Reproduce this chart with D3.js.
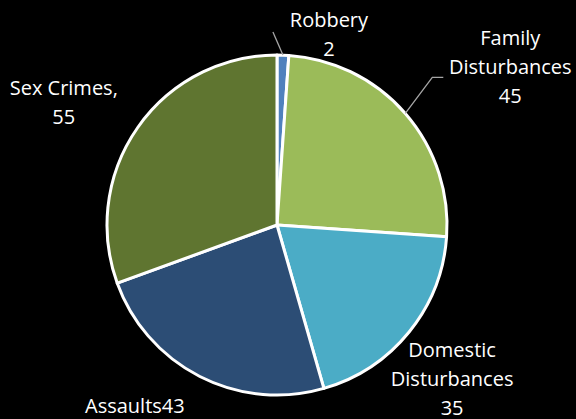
<!DOCTYPE html>
<html>
<head>
<meta charset="utf-8">
<script src="https://cdn.jsdelivr.net/npm/d3@7"></script>
<style>
  html, body { margin: 0; padding: 0; background: #000; }
  svg { display: block; }
  text { font-family: "Open Sans", sans-serif; font-size: 20px; fill: #fff; }
</style>
</head>
<body>
<div id="chart"></div>
<script>
// crime categories and counts
const categories = ["Robbery", "Family Disturbances", "Domestic Disturbances", "Assaults", "Sex Crimes"];
const counts = [2, 45, 35, 43, 55];
// label lines as shown on the chart
const labelLines = [
    ["Robbery", "2"],
    ["Family", "Disturbances", "45"],
    ["Domestic", "Disturbances", "35"],
    ["Assaults43"],
    ["Sex Crimes,", "55"]
];
const colors = ["#4f81bd", "#9bbb59", "#4bacc6", "#2c4d75", "#5f7530"];

const width = 576, height = 419;
const cx = 277, cy = 225, radius = 170;
const lineHeight = 29;

// label offset from the slice's outer edge point (dx to text center, dy to first baseline)
const labelOffset = [[46, -28], [105, -68], [43, 25], [-65, 37], [-74, -33]];
// leader line points relative to the outer edge point (null = no leader)
const leaderPts = [[[-10, -23]], [[27, -36], [38, -36]], null, null, null];

const svg = d3.select("#chart").append("svg")
    .attr("width", width)
    .attr("height", height);

const g = svg.append("g").attr("transform", `translate(${cx},${cy})`);

const pie = d3.pie().sort(null).value(d => d.value);
const data = categories.map((c, i) => ({ name: c, value: counts[i], index: i }));
const arcs = pie(data);

const arc = d3.arc().innerRadius(0).outerRadius(radius);
const edgeArc = d3.arc().innerRadius(radius).outerRadius(radius);

g.selectAll("path.slice")
    .data(arcs)
    .join("path")
    .attr("class", "slice")
    .attr("d", arc)
    .style("fill", d => colors[d.data.index])
    .style("stroke", "#fff")
    .style("stroke-width", 3)
    .style("stroke-linejoin", "round");

// leader lines
arcs.forEach((d, i) => {
    if (!leaderPts[i]) return;
    const [ex, ey] = edgeArc.centroid(d);
    const pts = [[ex, ey]].concat(leaderPts[i].map(p => [ex + p[0], ey + p[1]]));
    g.append("path")
        .attr("d", d3.line()(pts))
        .style("fill", "none")
        .style("stroke", "#a6a6a6")
        .style("stroke-width", 1.3);
});

// labels
arcs.forEach((d, i) => {
    const [ex, ey] = edgeArc.centroid(d);
    const t = g.append("text")
        .attr("text-anchor", "middle")
        .attr("x", ex + labelOffset[i][0])
        .attr("y", ey + labelOffset[i][1]);
    labelLines[i].forEach((line, j) => {
        t.append("tspan")
            .attr("x", ex + labelOffset[i][0])
            .attr("dy", j === 0 ? 0 : lineHeight)
            .text(line);
    });
});
</script>
</body>
</html>
